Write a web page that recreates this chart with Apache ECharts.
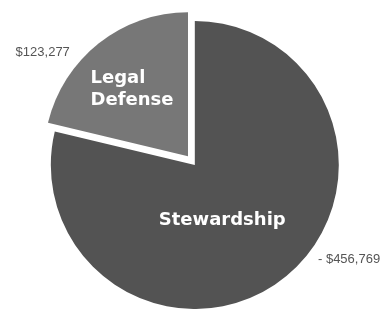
<!DOCTYPE html>
<html>
<head>
<meta charset="utf-8">
<script src="https://cdn.jsdelivr.net/npm/echarts@6/dist/echarts.min.js"></script>
<style>
  html, body { margin: 0; padding: 0; background: #fff; }
  #chart { width: 385px; height: 309px; }
</style>
</head>
<body>
<div id="chart"></div>
<script>
// 数据
const categories = ['Stewardship', 'Legal Defense']
const amounts = [456769, 123277]
const sliceColors = ['#535353', '#777777']
const innerNames = ['Stewardship', 'Legal\nDefense']

// 标签微调 (dx, dy)
const innerShift = [[-19, -4], [-51, -8]]
const outerShift = [[29, -19], [-24, 9]]

function money(v) {
  return '$' + v.toLocaleString('en-US')
}

const pieData = categories.map((name, i) => ({
  name: name,
  value: amounts[i],
  selected: i === 1,
  itemStyle: { color: sliceColors[i] }
}))

const chart = echarts.init(document.getElementById('chart'))

const common = {
  type: 'pie',
  center: ['50.6%', '53.4%'],
  radius: 144,
  startAngle: 90,
  clockwise: true,
  selectedMode: 'single',
  selectedOffset: 11,
  animation: false,
  emphasis: { disabled: true },
  labelLine: { show: false, length: 0, length2: 0 }
}

const option = {
  backgroundColor: '#fff',
  series: [
    Object.assign({}, common, {
      data: pieData,
      label: {
        position: 'outside',
        fontFamily: 'Liberation Sans',
        fontSize: 13,
        color: '#555',
        formatter: (p) => (p.dataIndex === 0 ? '- ' : '') + money(p.value)
      },
      labelLayout: (p) => ({ dx: outerShift[p.dataIndex][0], dy: outerShift[p.dataIndex][1] })
    }),
    Object.assign({}, common, {
      silent: true,
      data: pieData.map((d) => Object.assign({}, d, { itemStyle: { color: 'transparent' } })),
      label: {
        position: 'inside',
        fontFamily: 'DejaVu Sans',
        fontWeight: 'bold',
        fontSize: 18,
        lineHeight: 22,
        color: '#fff',
        formatter: (p) => innerNames[p.dataIndex]
      },
      labelLayout: (p) => ({
        dx: innerShift[p.dataIndex][0],
        dy: innerShift[p.dataIndex][1],
        align: p.dataIndex === 1 ? 'left' : 'center'
      })
    })
  ]
}

chart.setOption(option)
</script>
</body>
</html>
